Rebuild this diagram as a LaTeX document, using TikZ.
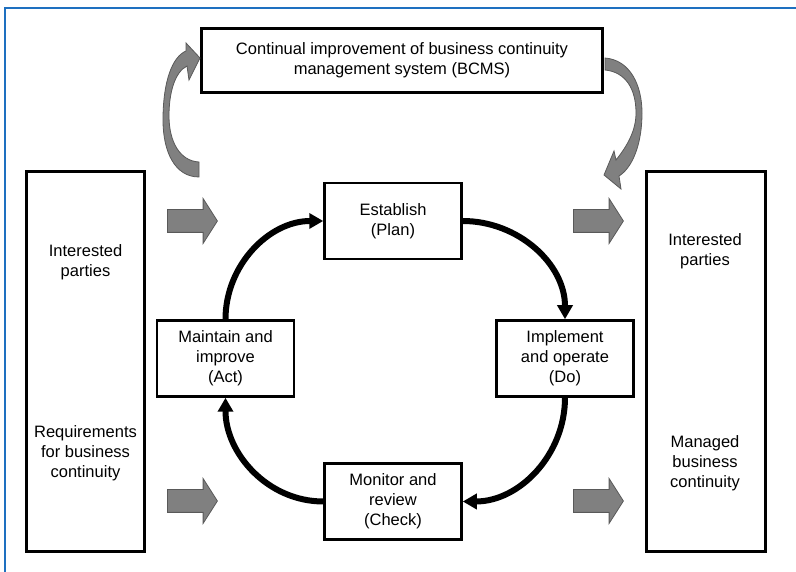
\documentclass[tikz,border=0pt]{standalone}
\usepackage{fontspec}
\setmainfont{Liberation Sans}
\usetikzlibrary{arrows.meta,shapes.arrows}
\definecolor{framebl}{RGB}{30,112,192}
\definecolor{feedgray}{RGB}{128,128,128}

\begin{document}
\begin{tikzpicture}[x=1pt, y=1pt,
                    font=\fontsize{16.5}{20}\selectfont,
                    big/.style = {draw, line width=3pt, inner sep=0pt, align=center},
                    stage/.style = {draw, line width=2.5pt, minimum width=137pt, minimum height=76pt, inner sep=0pt, align=center},
                    txt/.style = {inner sep=0pt, align=center},
                    pdca/.style = {line width=6pt, -{Triangle[width=15pt,length=14pt]}},
                    feed/.style = {single arrow, draw=black!65, fill=feedgray, line width=0.8pt,
                                   inner xsep=0pt, inner ysep=11pt,
                                   minimum width=44pt, minimum height=50pt,
                                   single arrow head extend=11pt, single arrow tip angle=115, anchor=tail},
                    curvearrow/.style = {draw=black!65, fill=feedgray, line width=0.8pt}]
                    \useasboundingbox (0,0) rectangle (796,572);
                    \draw[framebl, line width=2pt] (5,0) -- (5,564) -- (796,564);

                    % outer boxes
                    \node[big, minimum width=401pt, minimum height=64pt] (cont) at (402,511.5) {Continual improvement of business continuity\\management system (BCMS)};
                    \node[big, minimum width=118pt, minimum height=380pt] (inp) at (85.5,210.5) {};
                    \node[big, minimum width=119pt, minimum height=380pt] (outp) at (706,210.5) {};

                    \node[txt] (inparties) at (85.5,310) {Interested\\parties};
                    \node[txt] (req) at (85.5,119) {Requirements\\for business\\continuity};
                    \node[txt] (outparties) at (705,320.5) {Interested\\parties};
                    \node[txt] (managed) at (705,109) {Managed\\business\\continuity};

                    % the cycle
                    \node[stage] (est) at (393,351) {Establish\\(Plan)};
                    \node[stage] (imp) at (565,213.5) {Implement\\and operate\\(Do)};
                    \node[stage] (mon) at (393,70.5) {Monitor and\\review\\(Check)};
                    \node[stage] (mai) at (225.5,213.5) {Maintain and\\improve\\(Act)};

                    \draw[pdca] (est.east) to[out=0, in=90] (imp.north);
                    \draw[pdca] (imp.south) to[out=-90, in=0] (mon.east);
                    \draw[pdca] (mon.west) to[out=180, in=-90] (mai.south);
                    \draw[pdca] (mai.north) to[out=90, in=180] (est.west);

                    % grey arrows
                    \node[feed] (ina) at (167,351) {};
                    \node[feed] (inb) at (167,71) {};
                    \node[feed] (outa) at (573,351) {};
                    \node[feed] (outb) at (573,71) {};

                    \draw[curvearrow] (199,395) .. controls (175,395) and (163,420) .. (163,452)
                        .. controls (163,490) and (172,515) .. (186,521) -- (186,529) -- (200,514) -- (189,492) -- (187,506)
                        .. controls (175,500) and (169,480) .. (169,456)
                        .. controls (169,430) and (180,411) .. (199,410) -- cycle;
                    \draw[curvearrow] (605,514) .. controls (630,512) and (642,487) .. (642,459)
                        .. controls (642,427) and (632,404) .. (619,396) -- (621,383) -- (604,397) -- (614,421) -- (616,412)
                        .. controls (628,427) and (636,442) .. (636,459)
                        .. controls (636,484) and (625,500) .. (605,502) -- cycle;
                \end{tikzpicture}
\end{document}
